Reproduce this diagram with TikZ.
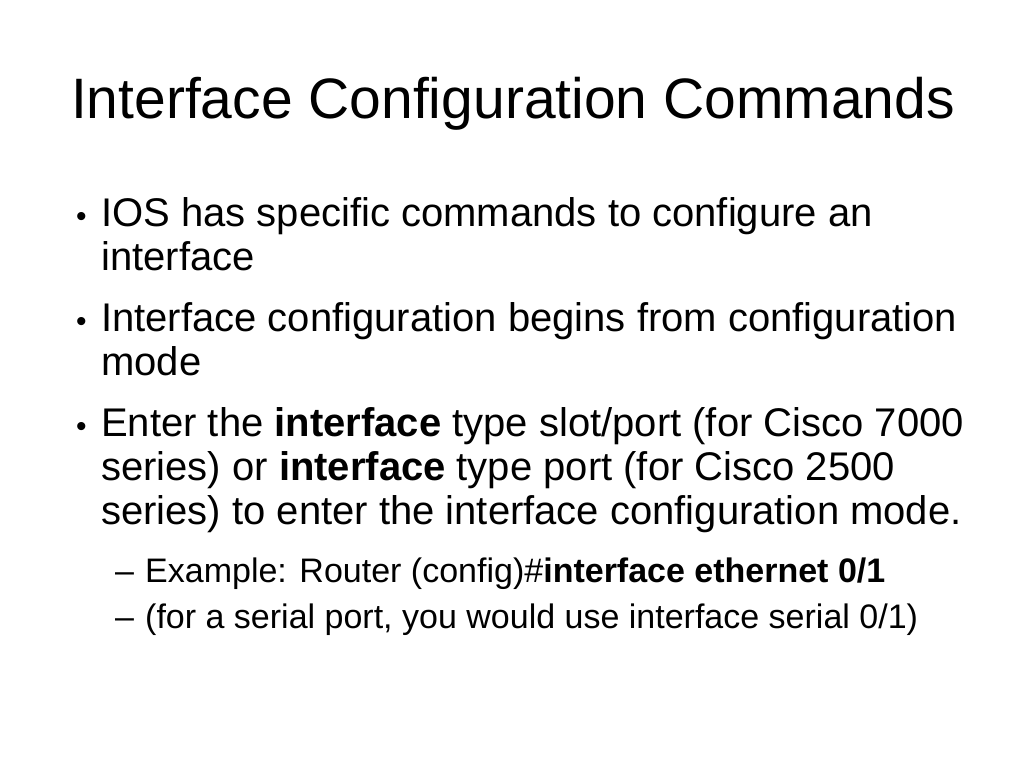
\documentclass[tikz,border=0pt]{standalone}
\usepackage{fontspec}
\setmainfont{Liberation Sans}
\begin{document}
\begin{tikzpicture}[x=1pt,y=-1pt,
  t/.style={anchor=base west,inner sep=0pt,font=\fontsize{40}{44}\selectfont},
  bl/.style={anchor=base west,inner sep=0pt,font=\fontsize{30}{34}\selectfont},
  s/.style={anchor=base west,inner sep=0pt,font=\fontsize{34}{38}\selectfont}]
\useasboundingbox (0,0) rectangle (1024,768);
\node[anchor=base,inner sep=0pt,font=\fontsize{57}{62}\selectfont] (title) at (513,118) {Interface Configuration Commands};
\node[bl] (b1) at (76,226) {•};
\node[t] (l1) at (101,226) {IOS has specific commands to configure an};
\node[t] (l2) at (101,270) {interface};
\node[bl] (b2) at (76,331) {•};
\node[t] (l3) at (101,331) {Interface configuration begins from configuration};
\node[t] (l4) at (101,375) {mode};
\node[bl] (b3) at (76,436) {•};
\node[t] (l5) at (101,436) {Enter the \textbf{interface} type slot/port (for Cisco 7000};
\node[t] (l6) at (101,480) {series) or \textbf{interface} type port (for Cisco 2500};
\node[t] (l7) at (101,524) {series) to enter the interface configuration mode.};
\node[s] (d1) at (115,582) {–};
\node[s] (l8) at (145,582) {Example: Router (config)\#\textbf{interface ethernet 0/1}};
\node[s] (d2) at (115,628) {–};
\node[s] (l9) at (145,628) {(for a serial port, you would use interface serial 0/1)};
\end{tikzpicture}
\end{document}
